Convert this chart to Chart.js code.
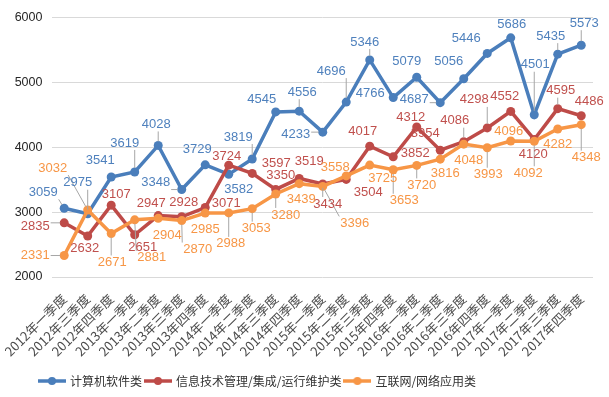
<!DOCTYPE html>
<html>
<head>
<meta charset="utf-8">
<script src="https://cdn.jsdelivr.net/npm/chart.js@4.4.0/dist/chart.umd.min.js"></script>
<style>
  html, body { margin: 0; padding: 0; background: #fff; }
</style>
</head>
<body>
<canvas id="grafico-evolucion" width="609" height="397"></canvas>
<script>
// Trimestres (eje X)
const trimestres = [
  '2012年一季度', '2012年三季度', '2012年四季度',
  '2013年一季度', '2013年二季度', '2013年三季度', '2013年四季度',
  '2014年一季度', '2014年二季度', '2014年三季度', '2014年四季度',
  '2015年一季度', '2015年二季度', '2015年三季度', '2015年四季度',
  '2016年一季度', '2016年二季度', '2016年三季度', '2016年四季度',
  '2017年一季度', '2017年二季度', '2017年三季度', '2017年四季度'
];

// Series
const software = [3059, 2975, 3541, 3619, 4028, 3348, 3729, 3582, 3819, 4545, 4556, 4233,
  4696, 5346, 4766, 5079, 4687, 5056, 5446, 5686, 4501, 5435, 5573];
const gestionTI = [2835, 2632, 3107, 2651, 2947, 2928, 3071, 3724, 3597, 3350, 3519, 3434,
  3504, 4017, 3852, 4312, 3954, 4086, 4298, 4552, 4120, 4595, 4486];
const internet = [2331, 3032, 2671, 2881, 2904, 2870, 2985, 2988, 3053, 3280, 3439, 3396,
  3558, 3725, 3653, 3720, 3816, 4048, 3993, 4096, 4092, 4282, 4348];

const nombresSeries = ['计算机软件类', '信息技术管理/集成/运行维护类', '互联网/网络应用类'];

// Eje Y
const ejeMin = 2000;
const ejeMax = 6000;
const ejePaso = 1000;

// Posición de cada etiqueta respecto a su punto (dx, dy en px)
const posEtiquetasSoftware = [[-21,-16],[-10,-31],[-11,-17],[-10,-29],[-2,-21],[-26,-7],[-8,-15],[10,15],
  [-14,-22],[-14,-12],[3,-19],[-27,2],[-15,-31],[-5,-18],[-23,-4],[-10,-16],[-26,-3],[-15,-17],
  [-21,-15],[1,-13],[1,-50],[-7,-18],[3,-22]];
const posEtiquetasGestion = [[-29,4],[-3,12],[5,-11],[8,13],[-7,-12],[2,-14],[21,-4],[-2,-9],
  [24,-10],[5,-14],[10,-17],[5,20],[22,13],[-7,-15],[22,-3],[-6,-10],[-15,-17],[-9,-21],
  [-13,-28],[-6,-15],[-1,15],[3,-18],[8,-14]];
const posEtiquetasInternet = [[-29,0],[-35,-42],[1,29],[17,38],[9,17],[16,29],[0,16],[2,31],
  [4,20],[10,21],[2,16],[32,37],[-11,-9],[13,13],[11,31],[5,20],[5,14],[5,16],
  [1,27],[-2,-10],[-6,32],[0,15],[5,33]];

const coloresLinea = ['#4a7ebb', '#be4b48', '#f79646'];
const coloresTexto = ['#4f81bd', '#c0504d', '#f79646'];

/**
 * Crea el icono de leyenda (línea con punto)
 */
function iconoLeyenda(color) {
  const c = document.createElement('canvas');
  c.width = 28;
  c.height = 10;
  const g = c.getContext('2d');
  g.strokeStyle = color;
  g.lineWidth = 3.5;
  g.beginPath();
  g.moveTo(0, 5);
  g.lineTo(28, 5);
  g.stroke();
  g.fillStyle = color;
  g.beginPath();
  g.arc(14, 5, 4, 0, Math.PI * 2);
  g.fill();
  return c;
}

const iconos = coloresLinea.map(iconoLeyenda);

/**
 * Dibuja las etiquetas de datos con líneas guía
 */
const etiquetasPlugin = {
  id: 'etiquetas',
  afterDatasetsDraw(chart) {
    const ctx = chart.ctx;
    const posiciones = [posEtiquetasSoftware, posEtiquetasGestion, posEtiquetasInternet];
    const items = [];
    ctx.save();
    ctx.font = '13px "Liberation Sans", Arial, sans-serif';
    chart.data.datasets.forEach((ds, di) => {
      const meta = chart.getDatasetMeta(di);
      meta.data.forEach((pt, i) => {
        const [dx, dy] = posiciones[di][i];
        const texto = String(ds.data[i]);
        const lx = pt.x + dx;
        const ly = pt.y + dy;
        const w = ctx.measureText(texto).width / 2 + 1;
        const h = 7;
        const nx = Math.max(lx - w, Math.min(pt.x, lx + w));
        const ny = Math.max(ly - h, Math.min(pt.y, ly + h));
        const dist = Math.hypot(pt.x - nx, pt.y - ny);
        items.push({ texto, lx, ly, color: coloresTexto[di] });
        if (dist > 10) {
          const ex = pt.x + (nx - pt.x) * 4 / dist;
          const ey = pt.y + (ny - pt.y) * 4 / dist;
          ctx.strokeStyle = '#a6a6a6';
          ctx.lineWidth = 1;
          ctx.beginPath();
          ctx.moveTo(nx, ny);
          ctx.lineTo(ex, ey);
          ctx.stroke();
        }
      });
    });
    ctx.textAlign = 'center';
    ctx.textBaseline = 'middle';
    items.forEach(it => {
      ctx.fillStyle = it.color;
      ctx.fillText(it.texto, it.lx, it.ly);
    });
    ctx.restore();
  }
};

// Mueve la leyenda a la izquierda como en el original
const leyendaPlugin = {
  id: 'leyendaIzq',
  afterUpdate(chart) {
    const ley = chart.legend;
    const ancho = ley.right - ley.left;
    ley.left = 36;
    ley.right = 36 + ancho;
  }
};

const series = [software, gestionTI, internet];

new Chart(document.getElementById('grafico-evolucion'), {
  type: 'line',
  data: {
    labels: trimestres,
    datasets: series.map((datos, i) => ({
      label: nombresSeries[i],
      data: datos,
      borderColor: coloresLinea[i],
      backgroundColor: coloresLinea[i],
      pointBackgroundColor: coloresLinea[i],
      pointBorderColor: coloresLinea[i],
      borderWidth: 3.5,
      pointRadius: 4.5,
      pointBorderWidth: 0,
      pointStyle: 'circle',
      tension: 0,
      fill: false,
      order: 3 - i
    }))
  },
  options: {
    responsive: false,
    animation: false,
    devicePixelRatio: 1,
    layout: {
      padding: { top: 16, right: 16, left: 0, bottom: 0 }
    },
    plugins: {
      tooltip: { enabled: false },
      legend: {
        position: 'bottom',
        align: 'start',
        labels: {
          usePointStyle: true,
          pointStyleWidth: 24,
          padding: 4,
          color: '#333333',
          font: { size: 12, family: '"Noto Sans CJK SC", sans-serif' },
          sort: (a, b) => a.datasetIndex - b.datasetIndex,
          generateLabels: function(chart) {
            const items = Chart.defaults.plugins.legend.labels.generateLabels(chart);
            items.forEach(it => { it.pointStyle = iconos[it.datasetIndex]; });
            return items;
          }
        }
      }
    },
    scales: {
      x: {
        offset: true,
        grid: { display: false },
        border: { display: false },
        ticks: {
          autoSkip: false,
          minRotation: 45,
          maxRotation: 45,
          padding: 6,
          color: '#4d4d4d',
          font: { size: 13, family: '"Noto Sans CJK SC", sans-serif' }
        },
        afterFit: function(escala) {
          escala.height = 120 - escala.chart.legend.height;
        }
      },
      y: {
        min: ejeMin,
        max: ejeMax,
        border: { display: false },
        grid: { color: '#d9d9d9', lineWidth: 1, drawTicks: false },
        ticks: {
          stepSize: ejePaso,
          padding: 10,
          color: '#262626',
          font: { size: 12.5, family: '"Liberation Sans", Arial, sans-serif' },
          callback: function(valor) {
            return String(valor);
          }
        },
        afterFit: function(escala) {
          escala.width = 47;
        }
      }
    }
  },
  plugins: [etiquetasPlugin, leyendaPlugin]
});
</script>
</body>
</html>
